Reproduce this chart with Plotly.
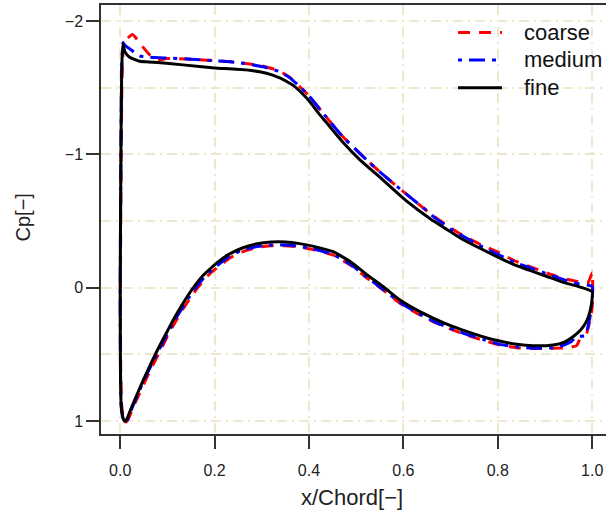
import plotly.graph_objects as go

# ---- data: chordwise position and pressure coefficient (upper TE -> LE -> lower TE)
coarse_x = [1.0, 1.0, 0.99, 0.97, 0.938, 0.90, 0.882, 0.84, 0.804, 0.76, 0.727, 0.70, 0.663, 0.607,
            0.55, 0.522, 0.47, 0.423, 0.40, 0.38, 0.359, 0.335, 0.30, 0.25, 0.218, 0.15, 0.098, 0.08,
            0.062, 0.045, 0.026, 0.015, 0.008, 0.004, 0.002, 0.0005, 0.001, 0.003, 0.007, 0.012, 0.018,
            0.027, 0.04, 0.053, 0.068, 0.083, 0.10, 0.117, 0.132, 0.15, 0.163, 0.178, 0.193, 0.207, 0.233,
            0.263, 0.293, 0.32, 0.35, 0.38, 0.41, 0.451, 0.49, 0.522, 0.56, 0.592, 0.63, 0.663, 0.70,
            0.734, 0.77, 0.804, 0.84, 0.875, 0.917, 0.95, 0.967, 0.972, 0.978, 0.988, 0.995, 1.0]
coarse_cp = [0.15, -0.11, -0.03, -0.045, -0.07, -0.115, -0.14, -0.195, -0.26, -0.33, -0.39, -0.45, -0.54, -0.70,
             -0.87, -0.96, -1.14, -1.34, -1.44, -1.51, -1.58, -1.63, -1.665, -1.69, -1.70, -1.715, -1.72, -1.71,
             -1.75, -1.82, -1.90, -1.87, -1.84, -1.6, -1.0, 0.0, 0.6, 0.88, 0.98, 1.01, 0.98,
             0.90, 0.80, 0.70, 0.59, 0.485, 0.365, 0.255, 0.165, 0.07, 0.005, -0.06, -0.115, -0.155, -0.225,
             -0.275, -0.305, -0.315, -0.315, -0.305, -0.285, -0.245, -0.165, -0.075, 0.025, 0.115, 0.195, 0.255, 0.31,
             0.355, 0.395, 0.43, 0.45, 0.457, 0.455, 0.45, 0.435, 0.40, 0.366, 0.34, 0.25, 0.15]

medium_x = [1.0, 0.97, 0.94, 0.90, 0.868, 0.84, 0.80, 0.76, 0.727, 0.70, 0.663, 0.649, 0.607, 0.55,
            0.522, 0.47, 0.423, 0.40, 0.38, 0.359, 0.335, 0.30, 0.25, 0.218, 0.15, 0.098, 0.06, 0.041,
            0.025, 0.01, 0.006, 0.003, 0.0015, 0.0, 0.0005, 0.002, 0.006, 0.011, 0.017, 0.026, 0.038,
            0.051, 0.066, 0.081, 0.10, 0.116, 0.131, 0.148, 0.161, 0.176, 0.191, 0.205, 0.231, 0.261,
            0.291, 0.32, 0.35, 0.38, 0.41, 0.451, 0.49, 0.522, 0.56, 0.592, 0.63, 0.663, 0.70, 0.734,
            0.77, 0.804, 0.84, 0.875, 0.917, 0.94, 0.956, 0.967, 0.985, 0.995, 1.0, 1.0]
medium_cp = [-0.01, -0.03, -0.06, -0.11, -0.15, -0.185, -0.25, -0.32, -0.385, -0.44, -0.535, -0.58, -0.70, -0.87,
             -0.96, -1.14, -1.34, -1.44, -1.51, -1.577, -1.625, -1.66, -1.69, -1.70, -1.715, -1.725, -1.73, -1.74,
             -1.78, -1.82, -1.84, -1.6, -1.0, 0.0, 0.6, 0.88, 0.98, 1.01, 0.98, 0.895, 0.795,
             0.69, 0.58, 0.475, 0.345, 0.24, 0.155, 0.06, -0.005, -0.07, -0.125, -0.165, -0.235, -0.285,
             -0.31, -0.32, -0.32, -0.31, -0.29, -0.25, -0.17, -0.08, 0.02, 0.11, 0.19, 0.25, 0.305, 0.35,
             0.39, 0.425, 0.445, 0.455, 0.45, 0.43, 0.404, 0.366, 0.36, 0.226, 0.08, -0.01]

fine_x = [1.0, 0.97, 0.939, 0.90, 0.868, 0.84, 0.80, 0.76, 0.727, 0.70, 0.656, 0.607, 0.55, 0.508,
          0.47, 0.437, 0.42, 0.401, 0.385, 0.368, 0.352, 0.338, 0.31, 0.267, 0.20, 0.168, 0.098, 0.06,
          0.041, 0.02, 0.01, 0.0055, 0.003, 0.0015, 0.0, 0.0005, 0.002, 0.006, 0.0106, 0.016, 0.025,
          0.037, 0.05, 0.065, 0.08, 0.10, 0.115, 0.13, 0.147, 0.16, 0.175, 0.19, 0.204, 0.23, 0.26,
          0.29, 0.32, 0.35, 0.38, 0.41, 0.451, 0.49, 0.522, 0.56, 0.592, 0.63, 0.663, 0.70, 0.734,
          0.77, 0.804, 0.84, 0.875, 0.917, 0.94, 0.96, 0.975, 0.988, 0.996, 1.0, 1.0]
fine_cp = [0.03, -0.01, -0.04, -0.09, -0.13, -0.165, -0.23, -0.30, -0.36, -0.42, -0.52, -0.65, -0.83, -0.96,
           -1.10, -1.24, -1.31, -1.40, -1.46, -1.515, -1.55, -1.575, -1.61, -1.635, -1.65, -1.66, -1.685, -1.695,
           -1.70, -1.73, -1.77, -1.83, -1.6, -1.0, 0.0, 0.6, 0.88, 0.98, 1.005, 0.97, 0.89,
           0.79, 0.685, 0.57, 0.46, 0.325, 0.225, 0.135, 0.04, -0.025, -0.09, -0.14, -0.185, -0.25, -0.30,
           -0.33, -0.343, -0.343, -0.331, -0.31, -0.27, -0.19, -0.10, 0.0, 0.09, 0.17, 0.228, 0.285, 0.328,
           0.37, 0.40, 0.425, 0.436, 0.43, 0.41, 0.366, 0.32, 0.253, 0.17, 0.08, 0.03]

series_names = ["coarse", "medium", "fine"]
x_ticks = [0.0, 0.2, 0.4, 0.6, 0.8, 1.0]
y_ticks = [-2, -1, 0, 1]

colors = ["#FF0000", "#0000FF", "#000000"]
dashes = ["12px,9px", "4px,7px,16px,7px", "solid"]
FONT = "Arial, Liberation Sans, sans-serif"

fig = go.Figure()
for name, xs, ys, c, d in zip(series_names, [coarse_x, medium_x, fine_x],
                              [coarse_cp, medium_cp, fine_cp], colors, dashes):
    fig.add_trace(go.Scatter(x=xs, y=ys, mode="lines", name=name,
                             line=dict(color=c, width=3, dash=d, shape="spline", smoothing=0.5),
                             showlegend=False))

GRID = "#EEE7CB"
GDASH = "10px,5px,2px,5px"
fig.update_layout(
    width=606, height=516,
    margin=dict(l=101, r=0, t=5, b=82),
    paper_bgcolor="white", plot_bgcolor="white",
    font=dict(family=FONT, color="#222222"),
    xaxis=dict(range=[-0.0407, 1.0293], tickvals=x_ticks, ticktext=[f"{v:.1f}" for v in x_ticks],
               showline=True, mirror=True, linecolor="#333333", linewidth=1.5,
               ticks="outside", ticklen=13, tickwidth=1.5, tickcolor="#333333",
               ticklabelstandoff=8,
               showgrid=True, gridcolor=GRID, griddash=GDASH, gridwidth=1.5,
               zeroline=False, tickfont=dict(size=16)),
    yaxis=dict(range=[1.098, -2.122], tickvals=y_ticks,
               showline=True, linecolor="#333333", linewidth=1.5,
               ticks="outside", ticklen=13, tickwidth=1.5, tickcolor="#333333",
               ticklabelstandoff=0,
               showgrid=True, gridcolor=GRID, griddash=GDASH, gridwidth=1.5,
               minor=dict(dtick=0.5, showgrid=True, gridcolor=GRID, griddash=GDASH,
                          gridwidth=1.5, ticklen=0),
               zeroline=False, tickfont=dict(size=16)),
)

# axis titles
fig.add_annotation(text="x/Chord[−]", xref="paper", yref="paper", x=0.497, y=0, yshift=-63,
                   showarrow=False, xanchor="center", yanchor="middle",
                   font=dict(size=22, family=FONT, color="#222222"))
fig.add_annotation(text="Cp[−]", xref="paper", yref="paper", x=-0.1545, y=0.5, yshift=2,
                   textangle=-90, showarrow=False, xanchor="center", yanchor="middle",
                   font=dict(size=20, family=FONT, color="#222222"))

# manual legend (line samples + labels)
leg_y = [0.936, 0.872, 0.807]
for name, c, d, ly in zip(series_names, colors, dashes, leg_y):
    fig.add_shape(type="line", xref="paper", yref="paper", x0=0.707, x1=0.794, y0=ly, y1=ly,
                  line=dict(color=c, width=3, dash=d))
    fig.add_annotation(text=name, xref="paper", yref="paper", x=0.833, y=ly, showarrow=False,
                       xanchor="left", yanchor="middle",
                       font=dict(size=22, family=FONT, color="#111111"))

fig.write_html("out.html")
